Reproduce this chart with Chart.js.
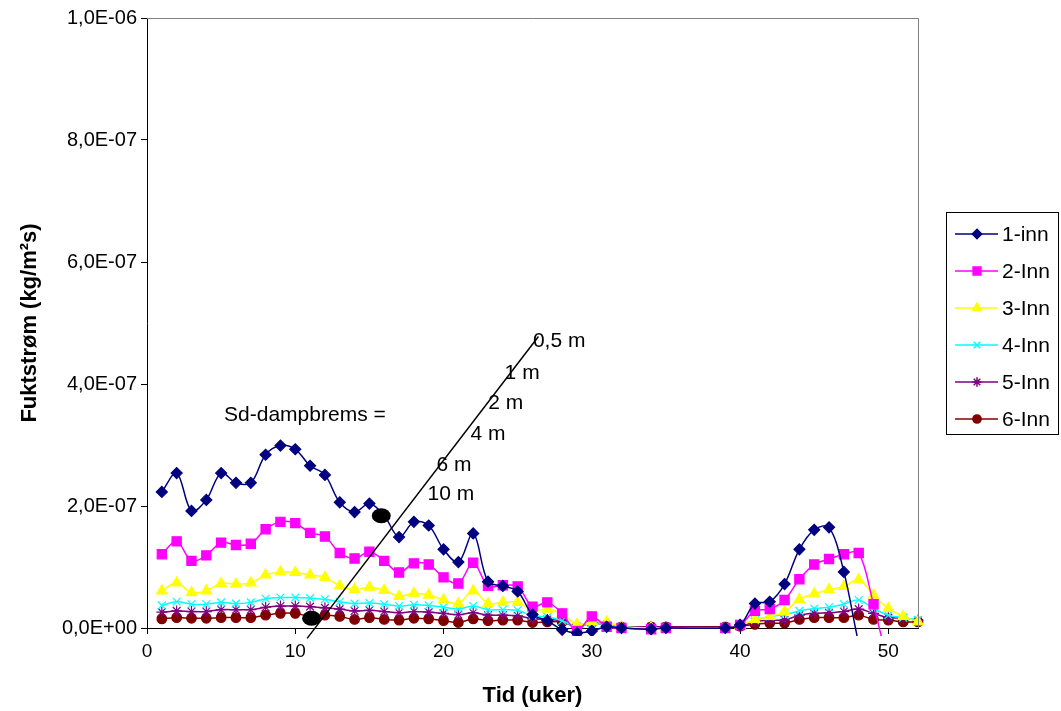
<!DOCTYPE html>
<html>
<head>
<meta charset="utf-8">
<script src="https://cdn.jsdelivr.net/npm/chart.js@4.4.1/dist/chart.umd.min.js"></script>
<style>
html, body { margin: 0; padding: 0; background: #fff; }
#wrap { width: 1061px; height: 711px; position: relative; }
</style>
</head>
<body>
<div id="wrap"><canvas id="mycanvas"></canvas></div>
<script>
// weeks with data (33, 36-38 are missing in the source)
var weeks = [1,2,3,4,5,6,7,8,9,10,11,12,13,14,15,16,17,18,19,20,21,22,23,24,25,26,27,28,29,30,31,32,34,35,39,40,41,42,43,44,45,46,47,48,49,50,51,52];

// values in units of 1e-7 kg/m2s
var inn1 = [2.23,2.54,1.92,2.10,2.54,2.38,2.38,2.84,2.99,2.93,2.66,2.51,2.06,
  1.90,2.04,1.84,1.49,1.74,1.68,1.29,1.08,1.55,0.76,0.69,0.60,0.22,
  0.12,-0.03,-0.08,-0.05,0.02,0.00, -0.02,0.00,
  0.00,0.05,0.40,0.43,0.72,1.29,1.61,1.65,0.92,-0.25,-1.2,-1.2,-1.2,-1.2];
var inn2 = [1.21,1.42,1.10,1.19,1.40,1.36,1.38,1.62,1.74,1.72,1.56,1.50,1.23,
  1.14,1.25,1.10,0.91,1.06,1.04,0.83,0.73,1.07,0.69,0.70,0.68,0.35,
  0.42,0.24,-0.05,0.19,0.02,0.00, -0.02,0.00,
  0.00,0.05,0.28,0.31,0.46,0.80,1.04,1.13,1.21,1.23,0.39,-0.5,-0.8,-0.8];
var inn3 = [0.61,0.74,0.58,0.61,0.73,0.72,0.74,0.87,0.92,0.91,0.87,0.83,0.69,
  0.63,0.67,0.62,0.52,0.57,0.54,0.46,0.40,0.61,0.40,0.42,0.42,0.29,
  0.31,0.23,0.06,0.10,0.10,0.02, 0.00,0.00,
  0.00,0.04,0.14,0.19,0.27,0.47,0.56,0.63,0.68,0.79,0.54,0.32,0.19,0.10];
var inn4 = [0.37,0.43,0.39,0.39,0.42,0.40,0.42,0.48,0.50,0.50,0.49,0.47,0.43,
  0.40,0.41,0.39,0.36,0.38,0.37,0.34,0.31,0.36,0.30,0.30,0.29,0.20,
  0.18,0.12,0.02,0.08,0.05,0.02, 0.00,0.00,
  0.00,0.05,0.13,0.19,0.22,0.28,0.32,0.34,0.39,0.46,0.32,0.21,0.17,0.13];
var inn5 = [0.26,0.28,0.27,0.27,0.30,0.30,0.30,0.34,0.36,0.36,0.35,0.33,0.31,
  0.28,0.29,0.27,0.25,0.27,0.26,0.24,0.22,0.25,0.21,0.21,0.20,0.15,
  0.14,0.12,0.02,0.09,0.05,0.01, 0.02,0.02,
  0.01,0.03,0.10,0.13,0.13,0.21,0.24,0.25,0.27,0.31,0.24,0.17,0.16,0.13];
var inn6 = [0.15,0.17,0.16,0.16,0.17,0.17,0.17,0.21,0.24,0.24,0.19,0.21,0.19,
  0.14,0.17,0.14,0.13,0.16,0.15,0.12,0.09,0.15,0.12,0.13,0.13,0.09,
  0.10,0.10,0.02,0.08,0.05,0.02, 0.02,0.02,
  0.02,0.03,0.06,0.08,0.08,0.14,0.17,0.17,0.17,0.21,0.14,0.13,0.10,0.10];

var seriesNames = ['1-inn','2-Inn','3-Inn','4-Inn','5-Inn','6-Inn'];
var xTicks = [0,10,20,30,40,50];
var yTicks = [0,2e-7,4e-7,6e-7,8e-7,1e-6];

// "Sd-dampbrems" annotation, in data units (x = week, y = 1e-7)
var sdLineX = [10.8, 26.4];
var sdLineY = [-0.17, 4.78];
var sdDotX = [11.1, 15.8];
var sdDotY = [0.16, 1.84];
var sdLabels = ['Sd-dampbrems =','0,5 m','1 m','2 m','4 m','6 m','10 m'];
var sdLabelX = [10.65, 27.8, 25.3, 24.2, 23.0, 20.7, 20.5];
var sdLabelY = [3.49, 4.70, 4.18, 3.69, 3.18, 2.67, 2.20];

var E7 = 1e-7;
var FONT = 'Arial, "Liberation Sans", sans-serif';

function toPoints(vals) {
	var pts = [];
	for (var i = 0; i < weeks.length; i++) {
		pts.push({x: weeks[i], y: vals[i] * E7});
	}
	return pts;
}

function fmtExp(v) {
	var s = Math.abs(v) < 1e-20 ? '0.0e+0' : v.toExponential(1);
	var parts = s.split('e');
	var exp = parseInt(parts[1], 10);
	var sign = exp < 0 ? '-' : '+';
	var e = Math.abs(exp);
	return parts[0].replace('.', ',') + 'E' + sign + (e < 10 ? '0' + e : e);
}

var styles = [
	{color: '#000080', point: 'rectRot', r: 5.5},
	{color: '#FF00FF', point: 'rect', r: 6.5},
	{color: '#FFFF00', point: 'triangle', r: 6},
	{color: '#00FFFF', point: 'crossRot', r: 5.5},
	{color: '#800080', point: 'star', r: 5.5},
	{color: '#800000', point: 'circle', r: 4.8}
];
var allSeries = [inn1, inn2, inn3, inn4, inn5, inn6];

var datasets = [];
for (var k = 0; k < allSeries.length; k++) {
	datasets.push({
		label: seriesNames[k],
		data: toPoints(allSeries[k]),
		borderColor: styles[k].color,
		backgroundColor: styles[k].color,
		pointBorderColor: styles[k].color,
		pointBackgroundColor: styles[k].color,
		pointStyle: styles[k].point,
		pointRadius: styles[k].r,
		pointBorderWidth: 1.2,
		borderWidth: 1.5,
		showLine: true,
		tension: 0.35,
		clip: {left: 8, right: 8, top: 8, bottom: 8}
	});
}

var sdPlugin = {
	id: 'sdNotes',
	afterDatasetsDraw: function(chart) {
		var ctx = chart.ctx, xs = chart.scales.x, ys = chart.scales.y;
		var a = chart.chartArea;
		ctx.save();
		// plot frame top/right
		ctx.strokeStyle = '#808080';
		ctx.lineWidth = 1;
		ctx.beginPath();
		ctx.moveTo(a.left, a.top + 0.5);
		ctx.lineTo(a.right + 0.5, a.top + 0.5);
		ctx.lineTo(a.right + 0.5, a.bottom);
		ctx.stroke();
		// diagonal line
		ctx.strokeStyle = '#000';
		ctx.lineWidth = 1.5;
		ctx.beginPath();
		ctx.moveTo(xs.getPixelForValue(sdLineX[0]), ys.getPixelForValue(sdLineY[0] * E7));
		ctx.lineTo(xs.getPixelForValue(sdLineX[1]), ys.getPixelForValue(sdLineY[1] * E7));
		ctx.stroke();
		// dots
		ctx.fillStyle = '#000';
		for (var i = 0; i < sdDotX.length; i++) {
			ctx.beginPath();
			ctx.ellipse(xs.getPixelForValue(sdDotX[i]), ys.getPixelForValue(sdDotY[i] * E7), 9.5, 7.5, 0, 0, Math.PI * 2);
			ctx.fill();
		}
		// labels
		ctx.font = '21px ' + FONT;
		ctx.textAlign = 'center';
		ctx.textBaseline = 'middle';
		for (var j = 0; j < sdLabels.length; j++) {
			ctx.fillText(sdLabels[j], xs.getPixelForValue(sdLabelX[j]), ys.getPixelForValue(sdLabelY[j] * E7));
		}
		ctx.restore();
	},
	afterDraw: function(chart) {
		// legend box on the right
		var ctx = chart.ctx;
		var bx = 946, by = 212, bw = 112, bh = 222, step = 37;
		ctx.save();
		ctx.fillStyle = '#fff';
		ctx.fillRect(bx, by, bw, bh);
		ctx.strokeStyle = '#000';
		ctx.lineWidth = 1;
		ctx.strokeRect(bx + 0.5, by + 0.5, bw, bh);
		ctx.font = '21px ' + FONT;
		ctx.textBaseline = 'middle';
		ctx.textAlign = 'left';
		for (var i = 0; i < styles.length; i++) {
			var cy = by + 22 + i * step;
			ctx.strokeStyle = styles[i].color;
			ctx.lineWidth = 1.5;
			ctx.beginPath();
			ctx.moveTo(955, cy);
			ctx.lineTo(998, cy);
			ctx.stroke();
			ctx.fillStyle = styles[i].color;
			Chart.helpers.drawPoint(ctx, {pointStyle: styles[i].point, radius: styles[i].r * 0.85, rotation: 0, borderWidth: 1.2}, 977, cy);
			ctx.fillStyle = '#000';
			ctx.fillText(seriesNames[i], 1002, cy + 1);
		}
		ctx.restore();
	}
};

var ctx = document.getElementById('mycanvas');
var chart = new Chart(ctx, {
	type: 'scatter',
	data: {datasets: datasets},
	plugins: [sdPlugin],
	options: {
		responsive: true,
		maintainAspectRatio: false,
		animation: false,
		events: [],
		layout: {padding: {top: 18, right: 143, left: 0, bottom: 0}},
		elements: {line: {capBezierPoints: false}},
		plugins: {legend: {display: false}, tooltip: {enabled: false}},
		scales: {
			x: {
				type: 'linear',
				min: 0,
				max: 52,
				afterBuildTicks: function(s) { s.ticks = xTicks.map(function(v) { return {value: v}; }); },
				afterFit: function(s) { s.height = 83; },
				grid: {drawOnChartArea: false, drawTicks: true, tickLength: 6, color: '#000'},
				border: {color: '#000', width: 1},
				ticks: {color: '#000', font: {family: FONT, size: 19}, padding: 6, maxRotation: 0},
				title: {display: true, text: 'Tid (uker)', color: '#000', font: {family: FONT, size: 22, weight: 'bold', lineHeight: 1}, padding: {top: 2}}
			},
			y: {
				type: 'linear',
				min: 0,
				max: 1e-6,
				afterBuildTicks: function(s) { s.ticks = yTicks.map(function(v) { return {value: v}; }); },
				afterFit: function(s) { s.width = 147; },
				grid: {drawOnChartArea: false, drawTicks: true, tickLength: 6, color: '#000'},
				border: {color: '#000', width: 1},
				ticks: {color: '#000', font: {family: FONT, size: 20}, padding: 4, callback: function(v) { return fmtExp(v); }},
				title: {display: true, text: 'Fuktstrøm (kg/m²s)', color: '#000', font: {family: FONT, size: 22, weight: 'bold'}, padding: {top: 17}}
			}
		}
	}
});
</script>
</body>
</html>
